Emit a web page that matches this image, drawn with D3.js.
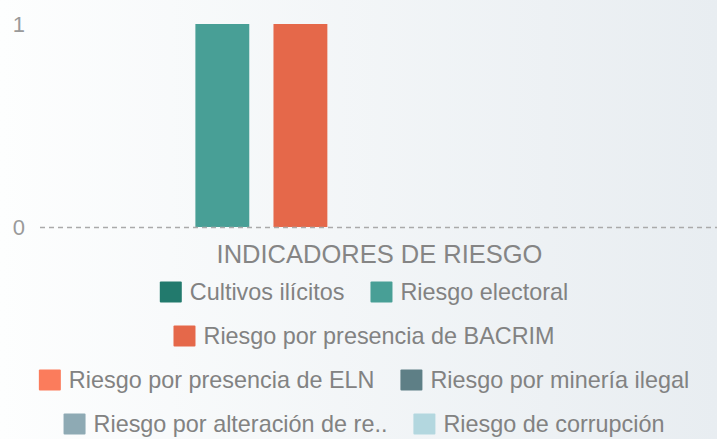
<!DOCTYPE html>
<html>
<head>
<meta charset="utf-8">
<script src="https://cdn.jsdelivr.net/npm/d3@7"></script>
<style>
  html, body { margin: 0; padding: 0; overflow: hidden; }
  body { width: 717px; height: 439px; }
  text { font-family: "Liberation Sans", Arial, sans-serif; }
</style>
</head>
<body>
<script>
// data
const categories = ["INDICADORES DE RIESGO"];
const seriesNames = [
    "Cultivos ilícitos",
    "Riesgo electoral",
    "Riesgo por presencia de BACRIM",
    "Riesgo por presencia de ELN",
    "Riesgo por minería ilegal",
    "Riesgo por alteración de re..",
    "Riesgo de corrupción"
];
const seriesValues = [0, 1, 1, 0, 0, 0, 0];
const seriesColors = ["#227a6d", "#489f96", "#e5684a", "#fb7c5c", "#5e7f86", "#8eaab4", "#b3d7df"];
const yTicks = [0, 1];

const width = 717, height = 439;

const svg = d3.select('body')
    .append('svg')
    .attr("width", width)
    .attr("height", height);

const defs = svg.append('defs');
const grad = defs.append('linearGradient')
    .attr('id', 'bg')
    .attr('x1', '0').attr('y1', '0')
    .attr('x2', '1').attr('y2', '0');
grad.append('stop').attr('offset', '0').attr('stop-color', '#fdfefe');
grad.append('stop').attr('offset', '1').attr('stop-color', '#e8edf1');

svg.append('rect')
    .attr('width', width)
    .attr('height', height)
    .attr('fill', 'url(#bg)');

const plotLeft = 40, plotRight = 717, plotTop = 24, plotBottom = 227;

const x0 = d3.scaleBand()
    .domain(categories)
    .range([plotLeft, plotRight]);

const x1 = d3.scaleBand()
    .domain(seriesNames)
    .range([0, x0.bandwidth()])
    .paddingInner(0.31)
    .paddingOuter(0.99);

const y = d3.scaleLinear()
    .domain([0, 1])
    .range([plotBottom, plotTop]);

// y labels
svg.append('g').selectAll('text')
    .data(yTicks)
    .enter().append('text')
    .attr('x', 25)
    .attr('y', d => y(d))
    .attr('dy', '0.36em')
    .attr('text-anchor', 'end')
    .attr('font-size', 22)
    .attr('fill', '#9a9a9a')
    .text(d => d);

// bars
const barsG = svg.append('g');
categories.forEach(cat => {
    barsG.selectAll('.bar')
        .data(seriesNames.map((name, i) => ({ name, value: seriesValues[i], color: seriesColors[i] })))
        .enter().append('rect')
        .attr('class', 'bar')
        .attr('x', d => x0(cat) + x1(d.name))
        .attr('width', x1.bandwidth())
        .attr('y', d => y(d.value))
        .attr('height', d => y(0) - y(d.value))
        .attr('fill', d => d.color);
});

// dashed baseline
svg.append('line')
    .attr('x1', plotLeft)
    .attr('x2', plotRight)
    .attr('y1', y(0) + 0.5)
    .attr('y2', y(0) + 0.5)
    .attr('stroke', '#aaaaaa')
    .attr('stroke-width', 1.5)
    .attr('stroke-dasharray', '5,4');

// axis name
svg.append('text')
    .attr('x', x0(categories[0]) + x0.bandwidth() / 2 + 1)
    .attr('y', 263)
    .attr('text-anchor', 'middle')
    .attr('font-size', 25.5)
    .attr('fill', '#858585')
    .text(categories[0]);

// legend
const legendG = svg.append('g');
const fontSize = 23.4, sw = 22, sh = 21, swGap = 8, itemGap = 26, rowH = 44, maxW = 690, cx = 364;
const items = seriesNames.map((name, i) => {
    const g = legendG.append('g');
    g.append('rect')
        .attr('width', sw).attr('height', sh)
        .attr('y', -sh / 2)
        .attr('rx', 1)
        .attr('fill', seriesColors[i]);
    const t = g.append('text')
        .attr('x', sw + swGap)
        .attr('dy', '0.35em')
        .attr('font-size', fontSize)
        .attr('fill', '#828282')
        .text(name);
    return { g, w: sw + swGap + t.node().getComputedTextLength() };
});

const rows = [];
let cur = [], curW = 0;
items.forEach(it => {
    const add = cur.length ? itemGap + it.w : it.w;
    if (cur.length && curW + add > maxW) {
        rows.push({ items: cur, w: curW });
        cur = [it]; curW = it.w;
    } else {
        cur.push(it); curW += add;
    }
});
rows.push({ items: cur, w: curW });

rows.forEach((row, r) => {
    let xx = cx - row.w / 2;
    const yy = 292 + r * rowH;
    row.items.forEach(it => {
        it.g.attr('transform', `translate(${xx},${yy})`);
        xx += it.w + itemGap;
    });
});
</script>
</body>
</html>
